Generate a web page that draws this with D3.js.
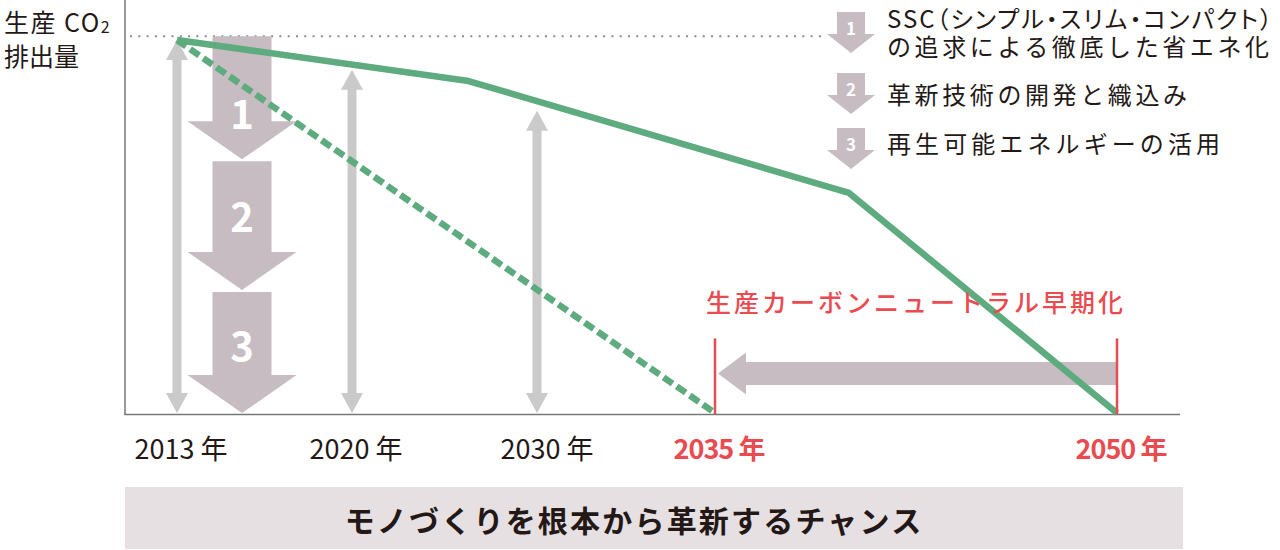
<!DOCTYPE html>
<html><head><meta charset="utf-8">
<script src="https://cdn.jsdelivr.net/npm/d3@7"></script>
<style>
html,body{margin:0;padding:0;background:#fff;}
svg{display:block;}
text{font-family:"Noto Sans CJK JP","Noto Sans",sans-serif;}
.palt{font-feature-settings:"palt" 1;}
</style></head>
<body>
<script>
// ---- data ----
const years = [2013, 2020, 2030, 2035, 2050];
const yearLabels = ["2013 年", "2020 年", "2030 年", "2035 年", "2050 年"];
const highlightYears = [2035, 2050];
const currentPathYears = [2013, 2026.3, 2040, 2050];
const currentPathValues = [100, 89, 59, 0];
const earlyPathYears = [2013, 2035];
const earlyPathValues = [100, 0];
const gapArrowYears = [2013, 2020, 2030];
const gapArrowTops = [100, 92, 81];
const stepNumbers = ["1", "2", "3"];
const stepBounds = [101, 68, 33, 0];
const stepTexts = [
  ["SSC（シンプル・スリム・コンパクト）", "の追求による徹底した省エネ化"],
  ["革新技術の開発と織込み"],
  ["再生可能エネルギーの活用"]
];
const yLabel = ["生産 CO", "2", "排出量"];
const bracketTitle = "生産カーボンニュートラル早期化";
const bracketYears = [2035, 2050];
const bracketTop = 20;
const bracketArrowLevel = 10.6;
const bannerText = "モノづくりを根本から革新するチャンス";
const baselineLevel = 101;

// ---- layout ----
const W = 1280, H = 550;
const green = "#5dab7e", mauve = "#c6bcc2", lightGray = "#cacaca",
      red = "#e94b50", ink = "#231815";

const svg = d3.select("body").append("svg").attr("width", W).attr("height", H);

const x = d3.scaleLinear().domain(years).range([177, 352, 537, 715, 1117]);
const y = d3.scaleLinear().domain([0, 100]).range([413, 40]);

// axes
svg.append("line").attr("x1", 125).attr("x2", 125).attr("y1", 0).attr("y2", 415)
  .attr("stroke", "#777").attr("stroke-width", 1.5);
svg.append("line").attr("x1", 124.5).attr("x2", 1180).attr("y1", 414.5).attr("y2", 414.5)
  .attr("stroke", "#777").attr("stroke-width", 1.5);

// dotted reference line
svg.append("line").attr("x1", 130).attr("x2", 822)
  .attr("y1", y(baselineLevel)).attr("y2", y(baselineLevel))
  .attr("stroke", "#8a8a8a").attr("stroke-width", 2)
  .attr("stroke-dasharray", "2,6.3");

// big step arrows
const stepCx = x(2013) + 65;
const shaftW = 59, headW = 109, headH = 38;
const numberPos = [0.75, 0.55, 0.57];
stepNumbers.forEach((n, i) => {
  const top = y(stepBounds[i]) + (i === 0 ? 0 : 2);
  const tip = y(stepBounds[i + 1]);
  const base = tip - headH;
  const p = d3.path();
  p.moveTo(stepCx - shaftW / 2, top);
  p.lineTo(stepCx + shaftW / 2, top);
  p.lineTo(stepCx + shaftW / 2, base);
  p.lineTo(stepCx + headW / 2, base);
  p.lineTo(stepCx, tip);
  p.lineTo(stepCx - headW / 2, base);
  p.lineTo(stepCx - shaftW / 2, base);
  p.closePath();
  svg.append("path").attr("d", p.toString()).attr("fill", mauve);
  svg.append("text").attr("x", stepCx).attr("y", top + (tip - top) * numberPos[i])
    .attr("text-anchor", "middle").attr("fill", "#fff")
    .attr("font-family", "'Open Sans',sans-serif")
    .attr("font-size", 40).attr("font-weight", 600).text(n);
});

// gray double arrows
function dblArrow(cx, y1, y2) {
  const sw = 9, hw = 22, hh = 20;
  const g = svg.append("g").attr("fill", lightGray);
  g.append("rect").attr("x", cx - sw / 2).attr("y", y1 + hh - 1).attr("width", sw).attr("height", y2 - y1 - 2 * hh + 2);
  g.append("path").attr("d", `M${cx},${y1}L${cx + hw / 2},${y1 + hh}L${cx - hw / 2},${y1 + hh}Z`);
  g.append("path").attr("d", `M${cx},${y2}L${cx + hw / 2},${y2 - hh}L${cx - hw / 2},${y2 - hh}Z`);
}
gapArrowYears.forEach((yr, i) => dblArrow(x(yr), y(gapArrowTops[i]), y(0)));

// lines
const line = d3.line().x(d => x(d[0])).y(d => y(d[1]));
svg.append("path")
  .attr("d", line(earlyPathYears.map((v, i) => [v, earlyPathValues[i]])))
  .attr("fill", "none").attr("stroke", green).attr("stroke-width", 6.5)
  .attr("stroke-dasharray", "11,5");

// bracket arrow (drawn under solid line)
const bx1 = x(bracketYears[0]), bx2 = x(bracketYears[1]);
const by = y(bracketArrowLevel);
{
  const sh = 23, ah = 42, al = 28;
  const p = d3.path();
  p.moveTo(bx1 + 3, by);
  p.lineTo(bx1 + 3 + al, by - ah / 2);
  p.lineTo(bx1 + 3 + al, by - sh / 2);
  p.lineTo(bx2, by - sh / 2);
  p.lineTo(bx2, by + sh / 2);
  p.lineTo(bx1 + 3 + al, by + sh / 2);
  p.lineTo(bx1 + 3 + al, by + ah / 2);
  p.closePath();
  svg.append("path").attr("d", p.toString()).attr("fill", mauve);
}

svg.append("path")
  .attr("d", line(currentPathYears.map((v, i) => [v, currentPathValues[i]])))
  .attr("fill", "none").attr("stroke", green).attr("stroke-width", 6.5)
  .attr("stroke-linejoin", "round");

bracketYears.forEach(yr => {
  svg.append("line").attr("x1", x(yr)).attr("x2", x(yr))
    .attr("y1", y(bracketTop)).attr("y2", y(0) + 1)
    .attr("stroke", red).attr("stroke-width", 2.5);
});
svg.append("text").attr("x", (bx1 + bx2) / 2).attr("y", 312)
  .attr("text-anchor", "middle").attr("fill", red)
  .attr("font-size", 25).attr("font-weight", 500).attr("letter-spacing", 3)
  .text(bracketTitle);

// x labels
years.forEach((yr, i) => {
  const hi = highlightYears.includes(yr);
  svg.append("text").attr("x", x(yr) + (yr === 2030 ? 10 : 4)).attr("y", 459)
    .attr("text-anchor", "middle")
    .attr("fill", hi ? red : ink)
    .attr("font-size", 27).attr("font-weight", hi ? 700 : 400)
    .attr("letter-spacing", hi ? -1 : 0)
    .text(yearLabels[i]);
});

// y label
{
  const t = svg.append("text").attr("x", 4).attr("y", 32).attr("fill", ink)
    .attr("font-size", 25).attr("letter-spacing", 1.5);
  t.append("tspan").text(yLabel[0]);
  t.append("tspan").attr("font-size", 16).attr("dy", 1).text(yLabel[1]);
  svg.append("text").attr("x", 4).attr("y", 66).attr("fill", ink).attr("font-size", 25)
    .attr("letter-spacing", 0).text(yLabel[2]);
}

// legend
const iconTops = [12, 73, 128];
stepNumbers.forEach((n, i) => {
  const cx = 851, t = iconTops[i], sw = 28, hw = 48, sh = 22, hh = 19;
  const p = d3.path();
  p.moveTo(cx - sw / 2, t); p.lineTo(cx + sw / 2, t); p.lineTo(cx + sw / 2, t + sh);
  p.lineTo(cx + hw / 2, t + sh); p.lineTo(cx, t + sh + hh); p.lineTo(cx - hw / 2, t + sh);
  p.lineTo(cx - sw / 2, t + sh); p.closePath();
  svg.append("path").attr("d", p.toString()).attr("fill", mauve);
  svg.append("text").attr("x", cx).attr("y", t + 23).attr("text-anchor", "middle")
    .attr("fill", "#fff").attr("font-family", "'Open Sans',sans-serif")
    .attr("font-size", 17).attr("font-weight", 600).text(n);
});
const legendBaselines = [[28, 56], [104], [153]];
const legendWidths = [[385, 382], [300], [333]];
stepTexts.forEach((lines, i) => {
  const t = svg.append("text").attr("fill", ink).attr("font-size", 24);
  lines.forEach((s, j) => {
    t.append("tspan").attr("x", 887).attr("y", legendBaselines[i][j])
      .attr("class", i === 0 && j === 0 ? "palt" : null)
      .attr("textLength", legendWidths[i][j]).attr("lengthAdjust", "spacing")
      .text(s);
  });
});

// banner
svg.append("rect").attr("x", 125).attr("y", 487).attr("width", 1058).attr("height", 62)
  .attr("fill", "#e6e0e3");
svg.append("text").attr("x", 634).attr("y", 532).attr("text-anchor", "middle")
  .attr("fill", ink).attr("font-size", 30).attr("font-weight", 700).attr("letter-spacing", 2.2)
  .text(bannerText);
</script>
</body></html>
